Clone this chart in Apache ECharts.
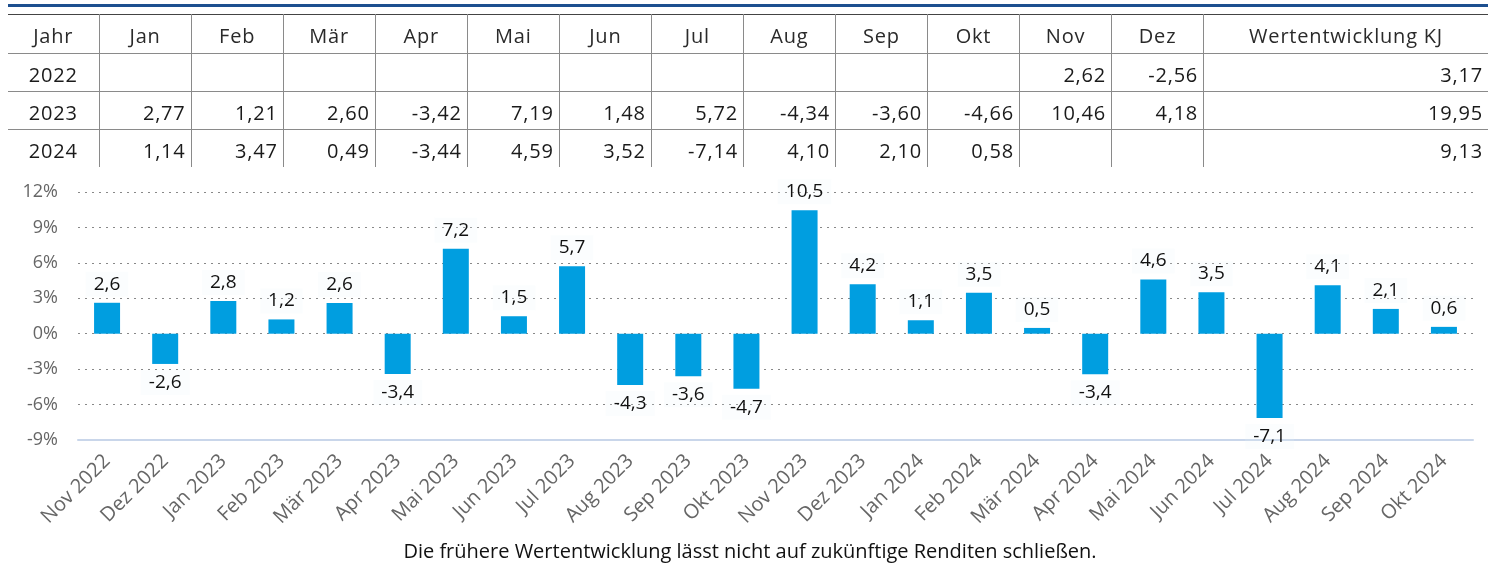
<!DOCTYPE html>
<html>
<head>
<meta charset="utf-8">
<script src="https://cdn.jsdelivr.net/npm/echarts@6/dist/echarts.min.js"></script>
<style>
  html, body { margin: 0; padding: 0; background: #fff; }
  #chart { position: absolute; left: 0; top: 0; width: 1500px; height: 563px; }
  #topline { position: absolute; left: 8px; top: 4px; width: 1480px; height: 3px; background: #1d4f8f; }
  #tbl {
    position: absolute; left: 8px; top: 14px; width: 1480px;
    border-collapse: collapse; table-layout: fixed;
    font-family: "Open Sans", sans-serif; color: #1a1a1a; z-index: 2;
    letter-spacing: 0.8px;
  }
  #tbl td, #tbl th { border: 1px solid #8a8a8a; padding: 3px 5px 0 5px; height: 34px; font-size: 20px; }
  #tbl th { font-weight: normal; text-align: center; font-size: 20px; color: #2a2a2a; }
  #tbl tr:first-child th { border-top: 1px solid #444; height: 35px; }
  #tbl tr:last-child td { border-bottom: none; }
  #tbl tr > *:first-child { border-left: none; text-align: center; }
  #tbl tr > *:last-child { border-right: none; }
  #tbl td { text-align: right; }
</style>
</head>
<body>
<div id="chart"></div>
<div id="topline"></div>
<table id="tbl"></table>
<script>
var months = ['Jan', 'Feb', 'Mär', 'Apr', 'Mai', 'Jun', 'Jul', 'Aug', 'Sep', 'Okt', 'Nov', 'Dez'];
var years = ['2022', '2023', '2024'];
var r2022 = [null, null, null, null, null, null, null, null, null, null, 2.62, -2.56];
var r2023 = [2.77, 1.21, 2.60, -3.42, 7.19, 1.48, 5.72, -4.34, -3.60, -4.66, 10.46, 4.18];
var r2024 = [1.14, 3.47, 0.49, -3.44, 4.59, 3.52, -7.14, 4.10, 2.10, 0.58, null, null];
var ytd = [3.17, 19.95, 9.13];
var yTicks = [-9, -6, -3, 0, 3, 6, 9, 12];
var footnote = 'Die frühere Wertentwicklung lässt nicht auf zukünftige Renditen schließen.';

var rows = [r2022, r2023, r2024];

function de(v, d) {
  return v.toFixed(d).replace('.', ',');
}

// table
var html = '<colgroup><col style="width:91px">';
for (var i = 0; i < 12; i++) html += '<col style="width:92px">';
html += '<col style="width:284px"></colgroup>';
html += '<tr><th>Jahr</th>';
months.forEach(function (m) { html += '<th>' + m + '</th>'; });
html += '<th>Wertentwicklung KJ</th></tr>';
rows.forEach(function (r, k) {
  html += '<tr><td>' + years[k] + '</td>';
  r.forEach(function (v) { html += '<td>' + (v == null ? '' : de(v, 2)) + '</td>'; });
  html += '<td>' + de(ytd[k], 2) + '</td></tr>';
});
document.getElementById('tbl').innerHTML = html;

// monthly series from the table
var cats = [], vals = [];
rows.forEach(function (r, k) {
  r.forEach(function (v, m) {
    if (v != null) {
      cats.push(months[m] + ' ' + years[k]);
      vals.push(v);
    }
  });
});

var chart = echarts.init(document.getElementById('chart'));
chart.setOption({
  animation: false,
  textStyle: { fontFamily: 'Open Sans' },
  grid: { left: 78, right: 27, top: 192, bottom: 123 },
  xAxis: {
    type: 'category',
    data: cats,
    axisLine: { onZero: false, lineStyle: { color: '#c9d6ea', width: 2 } },
    axisTick: { show: false },
    axisLabel: { rotate: 45, color: '#666', fontSize: 20, margin: 18, interval: 0 }
  },
  yAxis: {
    type: 'value',
    min: yTicks[0],
    max: yTicks[yTicks.length - 1],
    interval: 3,
    axisLine: { show: false },
    axisTick: { show: false },
    axisLabel: { color: '#666', fontSize: 18, margin: 20, formatter: '{value}%' },
    splitLine: { lineStyle: { type: [2, 5], color: '#888', width: 1 } }
  },
  series: [{
    type: 'bar',
    data: vals.map(function (v) {
      return {
        value: v,
        label: { position: v >= 0 ? 'top' : 'bottom' }
      };
    }),
    barWidth: 26,
    itemStyle: { color: '#009ee0' },
    label: {
      show: true,
      distance: 6,
      color: '#111',
      fontSize: 19,
      backgroundColor: 'rgba(235,245,250,0.18)',
      padding: [3, 8],
      formatter: function (p) { return de(p.value, 1); }
    }
  }],
  graphic: [{
    type: 'text',
    left: 'center',
    top: 542,
    style: { text: footnote, fontSize: 20, fill: '#111', fontFamily: 'Open Sans' }
  }]
});
</script>
</body>
</html>
